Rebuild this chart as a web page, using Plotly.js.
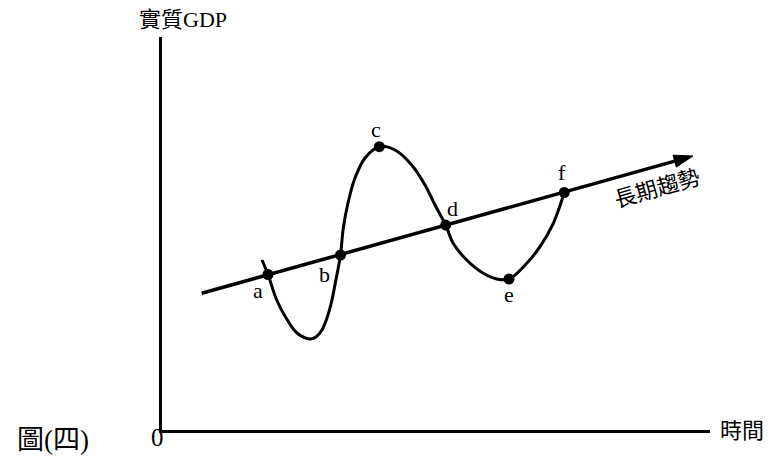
<!DOCTYPE html>
<html>
<head>
<meta charset="utf-8">
<script src="https://cdn.plot.ly/plotly-3.0.1.min.js"></script>
<style>html,body{margin:0;padding:0;background:#fff;}#chart{width:770px;height:457px;}</style>
</head>
<body>
<div id="chart"></div>
<script>
// Business-cycle curve (time vs real GDP), arbitrary units
var curveX = [100, 106, 114.7, 124.7, 135, 148, 154, 160, 165, 169.5, 173.5, 178.5, 181.3, 186.3, 193, 203, 217.3, 233, 249.7, 263, 273, 283.7, 291.3, 304.7, 321.3, 334.7, 347, 364.7, 378, 391.3, 402.3];
var curveY = [170, 155.5, 130, 111, 97, 91, 93, 100, 112, 128, 148, 175, 202, 228.3, 252, 272, 283.3, 280, 265, 245, 225, 204.9, 186.5, 170, 156.7, 151, 151, 166.7, 183.3, 206.7, 237.5];
// Long-term trend line
var trendX = [39.7, 531];
var trendY = [136.7, 274];
// Labelled points
var pointLabels = ['a', 'b', 'c', 'd', 'e', 'f'];
var pointsX = [106, 178.5, 217.3, 283.7, 347, 402.3];
var pointsY = [155.5, 175, 283.3, 204.9, 151, 237.5];
var labelShiftX = [-10, -16, -3, 7, 0, -2];
var labelShiftY = [-16, -19, 17, 17, -15, 20];

var serif = '"Liberation Serif", "Times New Roman", "Noto Sans CJK TC", serif';

var traces = [
  {x: trendX, y: trendY, mode: 'lines+markers', type: 'scatter',
   line: {color: '#000', width: 3.5},
   marker: {symbol: 'arrow', size: [0, 20], color: '#000', opacity: 1, angleref: 'previous', line: {width: 1, color: '#000'}},
   hoverinfo: 'skip'},
  {x: curveX, y: curveY, mode: 'lines', type: 'scatter',
   line: {color: '#000', width: 3, shape: 'spline', smoothing: 1},
   hoverinfo: 'skip'},
  {x: pointsX, y: pointsY, mode: 'markers', type: 'scatter',
   marker: {color: '#000', size: 11}, hoverinfo: 'skip'}
];

function outsideLabel(text, x, y, size) {
  return {x: x, y: y, xref: 'paper', yref: 'paper', xanchor: 'center', yanchor: 'middle',
          text: text, showarrow: false, font: {family: serif, size: size, color: '#000'}};
}

var annotations = pointLabels.map(function (t, i) {
  return {x: pointsX[i], y: pointsY[i], xref: 'x', yref: 'y', text: t, showarrow: false,
          xshift: labelShiftX[i], yshift: labelShiftY[i], font: {family: serif, size: 22, color: '#000'}};
});
annotations.push(
  outsideLabel('實質GDP', 0.0383, 1.0433, 22),
  outsideLabel('時間', 1.0584, 0, 22),
  outsideLabel('0', -0.0091, -0.0191, 25),
  outsideLabel('圖(四)', -0.1989, -0.0254, 27),
  {x: 495, y: 242, xref: 'x', yref: 'y', text: '長期趨勢', showarrow: false, textangle: -16, font: {family: serif, size: 22, color: '#000'}}
);

var layout = {
  width: 770, height: 457,
  margin: {l: 162, r: 60, t: 37, b: 27},
  paper_bgcolor: '#fff', plot_bgcolor: '#fff',
  showlegend: false,
  xaxis: {range: [0, 548], showline: true, linecolor: '#000', linewidth: 3, showgrid: false, zeroline: false, showticklabels: false, ticks: '', fixedrange: true},
  yaxis: {range: [0, 393], showline: true, linecolor: '#000', linewidth: 3, showgrid: false, zeroline: false, showticklabels: false, ticks: '', fixedrange: true},
  annotations: annotations
};

Plotly.newPlot('chart', traces, layout, {staticPlot: true, displayModeBar: false});
</script>
</body>
</html>
